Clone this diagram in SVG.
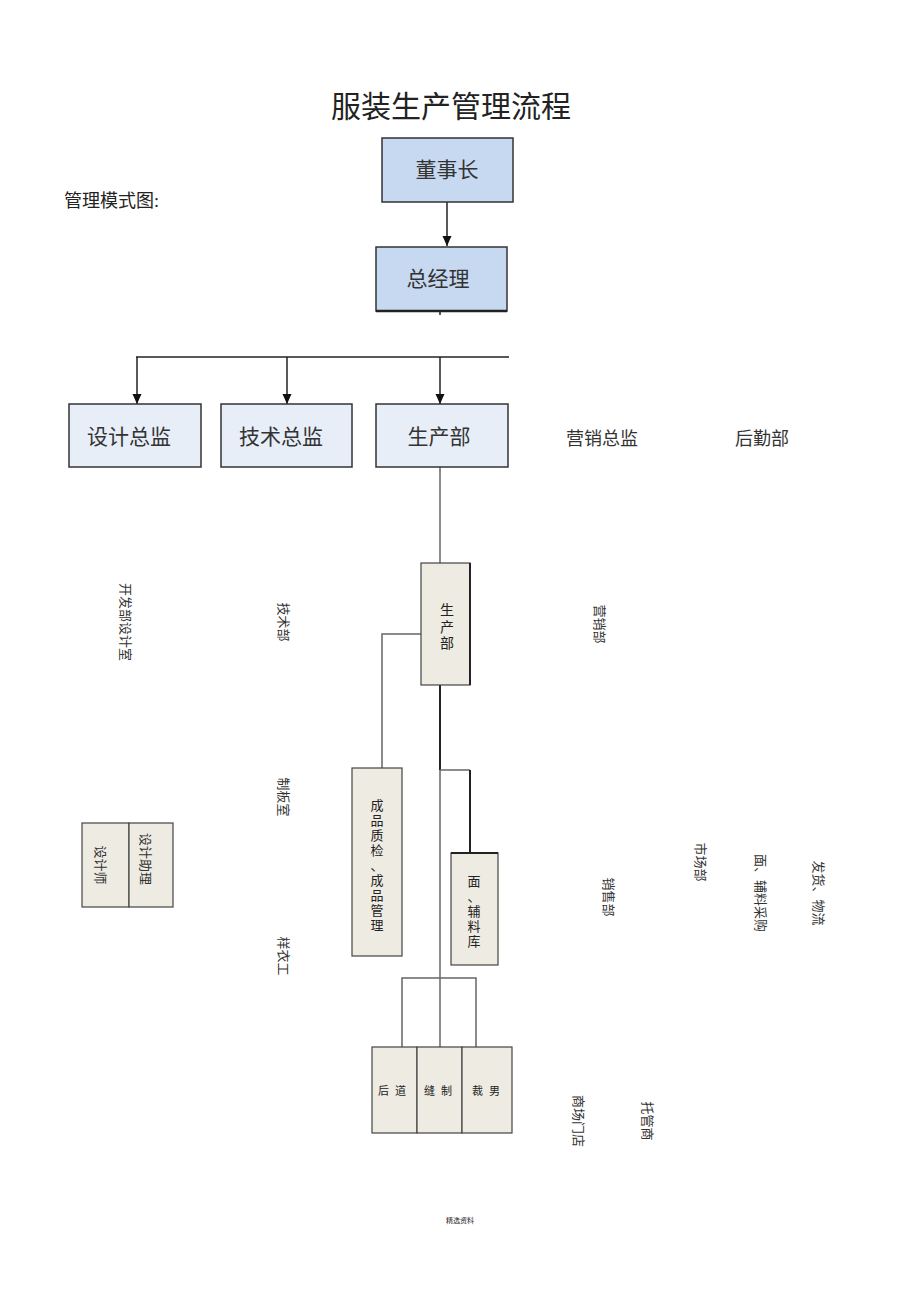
<svg xmlns="http://www.w3.org/2000/svg" width="920" height="1303" viewBox="0 0 920 1303">
<defs>
<marker id="arr" markerWidth="10" markerHeight="10" refX="10" refY="5" orient="auto" markerUnits="userSpaceOnUse" viewBox="0 0 10 10">
<path d="M0,0.5 L10,5 L0,9.5 Z" fill="#111"/>
</marker>
</defs>
<style>
text{font-family:"Liberation Serif","Noto Sans CJK SC",serif;fill:#222}
.s{font-family:"Noto Sans CJK SC",sans-serif;fill:#333}
.top{fill:#c6d9f0;stroke:#333;stroke-width:1.5}
.mid{fill:#e7eef8;stroke:#333;stroke-width:1.5}
.beige{fill:#edebe2;stroke:#444;stroke-width:1.2}
.c{text-anchor:middle;dominant-baseline:central}
.ln{stroke:#222;stroke-width:1.5;fill:none}
.lg{stroke:#666;stroke-width:1.5;fill:none}
.rot{font-size:13px;fill:#333;text-anchor:middle;dominant-baseline:central}
</style>
<rect width="920" height="1303" fill="#fff"/>
<text x="451" y="117" font-size="30" text-anchor="middle">服装生产管理流程</text>
<text x="64" y="207" font-size="18">管理模式图:</text>

<g id="connectors">
<line class="ln" x1="447" y1="202" x2="447" y2="246" marker-end="url(#arr)"/>
<line class="ln" x1="440" y1="311" x2="440" y2="315"/>
<line class="ln" x1="136" y1="357" x2="509" y2="357"/>
<line class="ln" x1="137" y1="357" x2="137" y2="404" marker-end="url(#arr)"/>
<line class="ln" x1="287" y1="357" x2="287" y2="404" marker-end="url(#arr)"/>
<line class="ln" x1="440" y1="357" x2="440" y2="404" marker-end="url(#arr)"/>
<line class="lg" x1="440" y1="467" x2="440" y2="563"/>
<polyline class="lg" points="421,634 382,634 382,768"/>
<line x1="440" y1="685" x2="440" y2="770" stroke="#222" stroke-width="2"/>
<line class="lg" x1="440" y1="770" x2="440" y2="1047"/>
<polyline class="lg" points="440,770 470,770"/>
<line x1="470" y1="770" x2="470" y2="853" stroke="#222" stroke-width="2"/>
<polyline class="lg" points="402,1047 402,978 476,978 476,1047"/>
</g>

<g id="n-dongshizhang">
<rect class="top" x="382" y="138" width="131" height="64"/>
<text class="s c" x="447" y="168" font-size="21">董事长</text>
</g>
<g id="n-zongjingli">
<rect class="top" x="376" y="247" width="131" height="64"/>
<line x1="376" y1="311" x2="507" y2="311" stroke="#222" stroke-width="2.5"/>
<text class="s c" x="438" y="277" font-size="21">总经理</text>
</g>

<g id="n-sheji">
<rect class="mid" x="69" y="404" width="132" height="63"/>
<text class="s c" x="129" y="435" font-size="21">设计总监</text>
</g>
<g id="n-jishu">
<rect class="mid" x="221" y="404" width="131" height="63"/>
<text class="s c" x="281" y="435" font-size="21">技术总监</text>
</g>
<g id="n-shengchan">
<rect class="mid" x="376" y="404" width="132" height="63"/>
<text class="s c" x="439" y="435" font-size="21">生产部</text>
</g>
<g id="n-yingxiao">
<text class="s" x="566" y="445" font-size="18">营销总监</text>
</g>
<g id="n-houqin">
<text class="s" x="735" y="445" font-size="18">后勤部</text>
</g>

<g id="n-shengchanbu2">
<rect class="beige" x="421" y="563" width="49" height="122"/>
<line x1="470" y1="563" x2="470" y2="685" stroke="#222" stroke-width="2"/>
<text class="c" x="447" y="610" font-size="14" fill="#444">生</text>
<text class="c" x="447" y="627" font-size="14" fill="#444">产</text>
<text class="c" x="447" y="643" font-size="14" fill="#444">部</text>
</g>

<g id="n-chengpin">
<rect class="beige" x="352" y="768" width="50" height="188"/>
<g font-size="13" fill="#444">
<text class="c" x="377" y="805">成</text>
<text class="c" x="377" y="820">品</text>
<text class="c" x="377" y="835">质</text>
<text class="c" x="377" y="850">检</text>
<text class="c" x="377" y="865">、</text>
<text class="c" x="377" y="880">成</text>
<text class="c" x="377" y="895">品</text>
<text class="c" x="377" y="910">管</text>
<text class="c" x="377" y="925">理</text>
</g>
</g>

<g id="n-fuliaoku">
<rect class="beige" x="451" y="853" width="47" height="112"/>
<line x1="451" y1="853" x2="498" y2="853" stroke="#222" stroke-width="2"/>
<g font-size="13" fill="#444">
<text class="c" x="474" y="881">面</text>
<text class="c" x="474" y="896">、</text>
<text class="c" x="474" y="911">辅</text>
<text class="c" x="474" y="926">料</text>
<text class="c" x="474" y="941">库</text>
</g>
</g>

<g id="n-bottom">
<rect class="beige" x="372" y="1047" width="45" height="86"/>
<rect class="beige" x="417" y="1047" width="45" height="86"/>
<rect class="beige" x="462" y="1047" width="50" height="86"/>
<text class="c" x="395" y="1091" font-size="11" fill="#333" letter-spacing="6">后道</text>
<text class="c" x="441" y="1091" font-size="11" fill="#333" letter-spacing="6">缝制</text>
<text class="c" x="489" y="1091" font-size="11" fill="#333" letter-spacing="6">裁男</text>
</g>

<g id="n-designer">
<rect class="beige" x="82" y="823" width="47" height="84"/>
<rect class="beige" x="129" y="823" width="44" height="84"/>
<text class="rot" font-size="12" transform="translate(100,865) rotate(90)">设计师</text>
<text class="rot" font-size="12" transform="translate(145,859) rotate(90)">设计助理</text>
</g>

<g id="labels-rot">
<text class="rot" font-size="14" transform="translate(125,622) rotate(90)">开发部设计室</text>
<text class="rot" font-size="14" transform="translate(283,622) rotate(90)">技术部</text>
<text class="rot" font-size="14" transform="translate(599,624) rotate(90)">营销部</text>
<text class="rot" font-size="13" transform="translate(283,797) rotate(90)">制板室</text>
<text class="rot" font-size="13" transform="translate(283,956) rotate(90)">样衣工</text>
<text class="rot" font-size="12" transform="translate(608,897) rotate(90)">销售部</text>
<text class="rot" font-size="12" transform="translate(700,862) rotate(90)">市场部</text>
<text class="rot" font-size="12" transform="translate(760,893) rotate(90)">面、辅料采购</text>
<text class="rot" font-size="12" transform="translate(818,893) rotate(90)">发货、物流</text>
<text class="rot" font-size="12" transform="translate(578,1121) rotate(90)">商场门店</text>
<text class="rot" font-size="12" transform="translate(647,1121) rotate(90)">托管商</text>
</g>

<text x="460" y="1223" font-size="7" text-anchor="middle" fill="#666">精选资料</text>
</svg>
